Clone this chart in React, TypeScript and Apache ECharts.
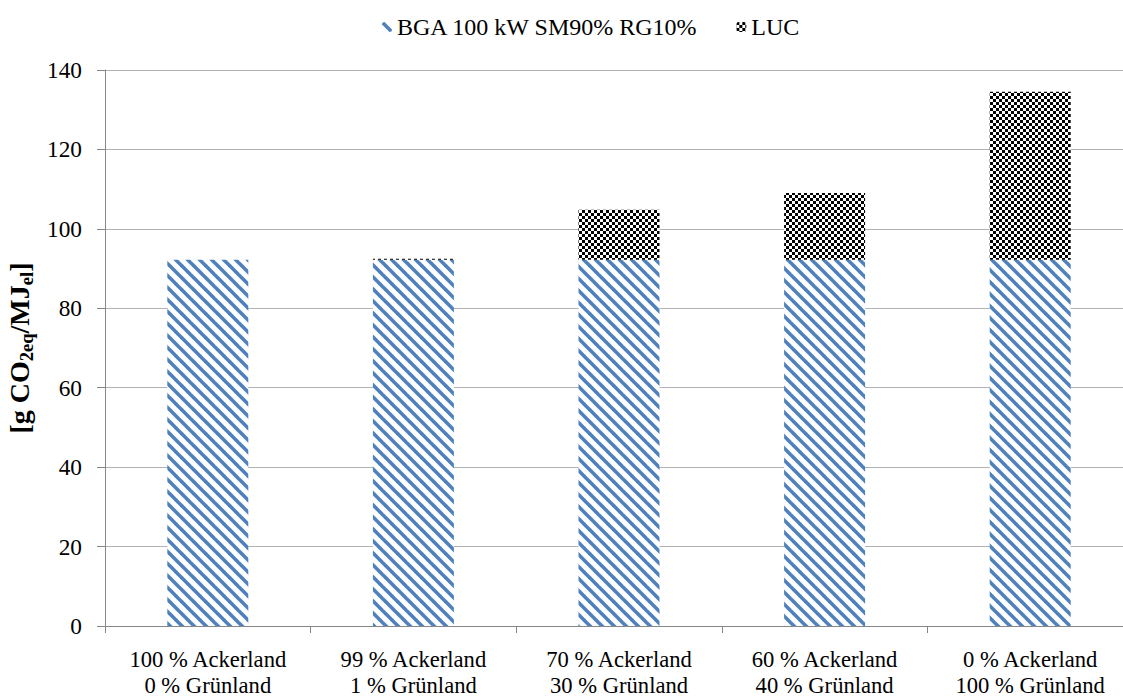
import React, { useEffect, useRef } from "react";
import * as echarts from "echarts";

const categories = [
  "100 % Ackerland\n0 % Grünland",
  "99 % Ackerland\n1 % Grünland",
  "70 % Ackerland\n30 % Grünland",
  "60 % Ackerland\n40 % Grünland",
  "0 % Ackerland\n100 % Grünland",
];
const seriesNames = ["BGA 100 kW SM90% RG10%", "LUC"];
const bgaValues = [92.2, 92.2, 92.2, 92.2, 92.2];
const lucValues = [0, 0.3, 12.6, 16.8, 42.3];
const yMin = 0;
const yMax = 140;
const yInterval = 20;

const FONT = "'Liberation Serif', 'Times New Roman', serif";

function makeStripe(): HTMLCanvasElement {
  const c = document.createElement("canvas");
  c.width = 12;
  c.height = 12;
  const ctx = c.getContext("2d")!;
  ctx.fillStyle = "#ffffff";
  ctx.fillRect(0, 0, 12, 12);
  ctx.strokeStyle = "#4f81bd";
  ctx.lineWidth = 3.6;
  for (const k of [-12, 0, 12]) {
    ctx.beginPath();
    ctx.moveTo(-2 + k, -2);
    ctx.lineTo(14 + k, 14);
    ctx.stroke();
  }
  return c;
}

function makeChecker(): HTMLCanvasElement {
  const c = document.createElement("canvas");
  c.width = 6;
  c.height = 6;
  const ctx = c.getContext("2d")!;
  ctx.fillStyle = "#ffffff";
  ctx.fillRect(0, 0, 6, 6);
  ctx.fillStyle = "#000000";
  ctx.fillRect(0, 0, 3, 3);
  ctx.fillRect(3, 3, 3, 3);
  return c;
}

export default function App() {
  const ref = useRef<HTMLDivElement>(null);
  useEffect(() => {
    if (!ref.current) return;
    const chart = echarts.init(ref.current, null, { renderer: "svg" });
    const stripe = makeStripe();
    const checker = makeChecker();
    const option: any = {
      animation: false,
      backgroundColor: "#ffffff",
      textStyle: { fontFamily: FONT, color: "#000" },
      legend: {
        top: 10,
        left: 377,
        itemWidth: 10,
        itemHeight: 10,
        itemGap: 38,
        textStyle: { fontFamily: FONT, fontSize: 24, color: "#000" },
        data: seriesNames,
      },
      grid: {
        left: 105,
        top: 70,
        width: 1028,
        height: 556,
        containLabel: false,
        outerBoundsMode: "none",
      },
      xAxis: {
        type: "category",
        data: categories,
        axisLine: { lineStyle: { color: "#868686", width: 1 } },
        axisTick: { show: true, length: 7, lineStyle: { color: "#868686" } },
        axisLabel: {
          interval: 0,
          margin: 20,
          fontFamily: FONT,
          fontSize: 22.6,
          lineHeight: 26,
          color: "#000",
        },
      },
      yAxis: {
        type: "value",
        min: yMin,
        max: yMax,
        interval: yInterval,
        name: "{b|[g CO}{s|2eq}{b|/MJ}{s|el}{b|]}",
        nameLocation: "middle",
        nameRotate: 90,
        nameGap: 66,
        nameTextStyle: {
          rich: {
            b: { fontFamily: FONT, fontSize: 28, fontWeight: "bold", color: "#000", lineHeight: 34 },
            s: { fontFamily: FONT, fontSize: 18.5, fontWeight: "bold", color: "#000", lineHeight: 20, verticalAlign: "bottom" },
          },
        },
        axisLine: { show: true, lineStyle: { color: "#868686", width: 1 } },
        axisTick: { show: true, length: 8, inside: false, lineStyle: { color: "#868686" } },
        axisLabel: { margin: 23, fontFamily: FONT, fontSize: 23.3, color: "#000" },
        splitLine: { show: true, lineStyle: { color: "#b3b3b3", width: 1 } },
      },
      series: [
        {
          name: seriesNames[0],
          type: "bar",
          stack: "total",
          barWidth: 81,
          data: bgaValues,
          itemStyle: { color: { image: stripe, repeat: "repeat", imageWidth: 12, imageHeight: 12 } },
        },
        {
          name: seriesNames[1],
          type: "bar",
          stack: "total",
          barWidth: 81,
          data: lucValues,
          itemStyle: { color: { image: checker, repeat: "repeat", imageWidth: 6, imageHeight: 6 } },
        },
      ],
    };
    chart.setOption(option);
    return () => chart.dispose();
  }, []);
  return (
    <div
      ref={ref}
      style={{ position: "absolute", left: 0, top: 0, width: 1123, height: 700 }}
    />
  );
}
